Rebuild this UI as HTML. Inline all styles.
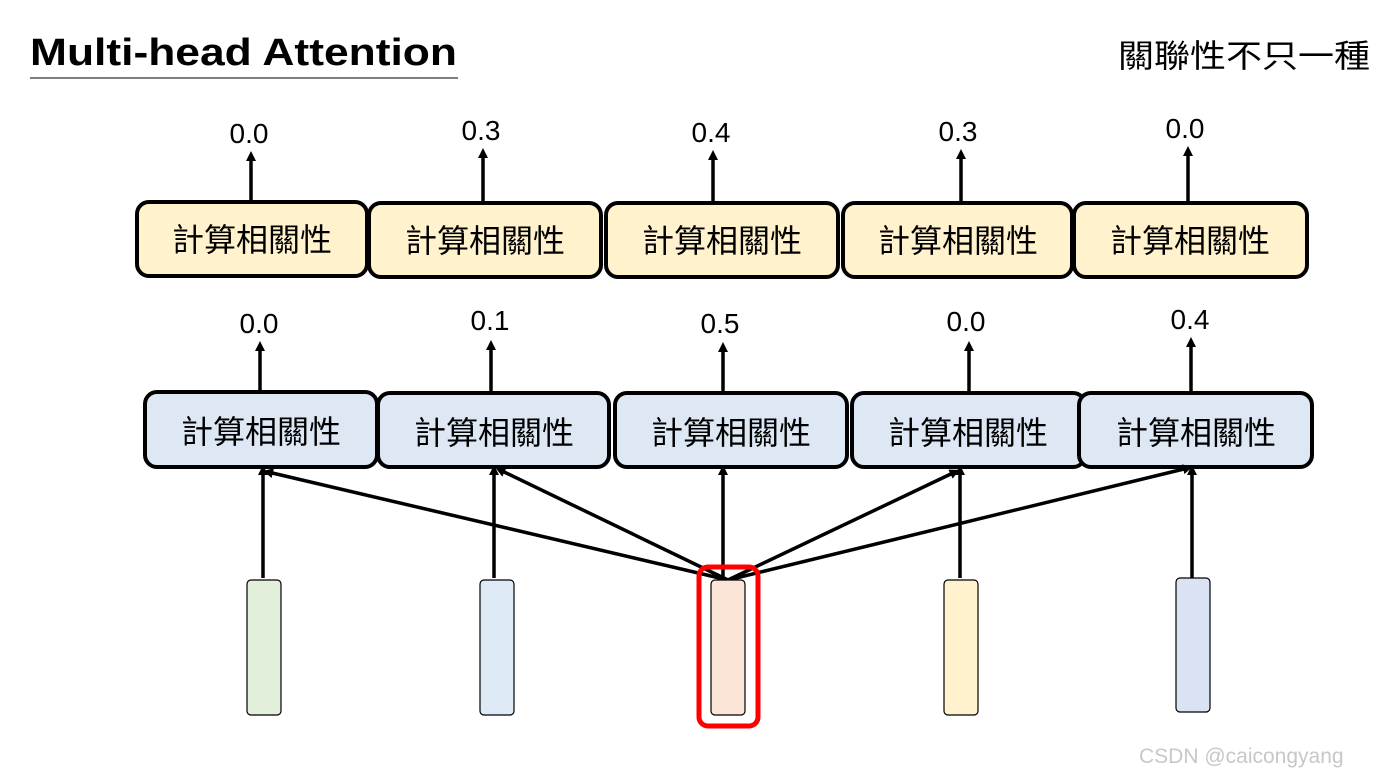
<!DOCTYPE html>
<html><head><meta charset="utf-8"><style>
html,body{margin:0;padding:0;background:#fff;}
svg{display:block;}
</style></head><body>
<svg width="1386" height="778" viewBox="0 0 1386 778" xmlns="http://www.w3.org/2000/svg">
<defs>
<marker id="a" markerWidth="10" markerHeight="10" refX="5" refY="5" orient="auto" markerUnits="userSpaceOnUse">
<path d="M0,0 L10,5 L0,10 z" fill="#000"/>
</marker>
</defs>
<text x="30" y="65" font-family="Liberation Sans, sans-serif" font-weight="bold" font-size="38" textLength="427" lengthAdjust="spacingAndGlyphs">Multi-head Attention</text>
<line x1="30" y1="78" x2="458" y2="78" stroke="#555" stroke-width="1.5"/>
<text x="1118" y="67" font-family="Liberation Sans, Noto Sans CJK TC, sans-serif" font-size="32" textLength="252" lengthAdjust="spacingAndGlyphs">關聯性不只一種</text>

<g font-family="Liberation Sans, Noto Sans CJK TC, sans-serif" font-size="32" text-anchor="middle">
<!-- top boxes -->
<g fill="#fff2cc" stroke="#000" stroke-width="4">
<rect x="137" y="202" width="230" height="74" rx="12"/>
<rect x="369" y="203" width="232" height="74" rx="12"/>
<rect x="606" y="203" width="232" height="74" rx="12"/>
<rect x="843" y="203" width="229" height="74" rx="12"/>
<rect x="1074" y="203" width="233" height="74" rx="12"/>
</g>
<g>
<text x="252" y="251">計算相關性</text>
<text x="485" y="252">計算相關性</text>
<text x="722" y="252">計算相關性</text>
<text x="958" y="252">計算相關性</text>
<text x="1190" y="252">計算相關性</text>
</g>
<!-- bottom boxes -->
<g fill="#dee8f5" stroke="#000" stroke-width="4">
<rect x="145" y="392" width="232" height="75" rx="12"/>
<rect x="378" y="393" width="231" height="74" rx="12"/>
<rect x="615" y="393" width="232" height="74" rx="12"/>
<rect x="852" y="393" width="233" height="74" rx="12"/>
<rect x="1079" y="393" width="233" height="74" rx="12"/>
</g>
<g>
<text x="261" y="443">計算相關性</text>
<text x="494" y="444">計算相關性</text>
<text x="731" y="444">計算相關性</text>
<text x="968" y="444">計算相關性</text>
<text x="1196" y="444">計算相關性</text>
</g>
<g font-size="28">
<text x="249" y="143">0.0</text>
<text x="481" y="140">0.3</text>
<text x="711" y="142">0.4</text>
<text x="958" y="141">0.3</text>
<text x="1185" y="138">0.0</text>
<text x="259" y="333">0.0</text>
<text x="490" y="330">0.1</text>
<text x="720" y="333">0.5</text>
<text x="966" y="331">0.0</text>
<text x="1190" y="329">0.4</text>
</g>
</g>

<g stroke="#000" stroke-width="3.5" marker-end="url(#a)">
<line x1="251" y1="203" x2="251" y2="156"/>
<line x1="483" y1="203" x2="483" y2="153"/>
<line x1="713" y1="203" x2="713" y2="155"/>
<line x1="961" y1="203" x2="961" y2="154"/>
<line x1="1188" y1="203" x2="1188" y2="151"/>
<line x1="260" y1="392" x2="260" y2="346"/>
<line x1="491" y1="393" x2="491" y2="345"/>
<line x1="723" y1="393" x2="723" y2="347"/>
<line x1="969" y1="393" x2="969" y2="346"/>
<line x1="1191" y1="393" x2="1191" y2="342"/>
<line x1="263" y1="578" x2="263" y2="470"/>
<line x1="494" y1="578" x2="494" y2="470"/>
<line x1="723" y1="578" x2="723" y2="470"/>
<line x1="960" y1="578" x2="960" y2="470"/>
<line x1="1192" y1="578" x2="1192" y2="470"/>
<line x1="728" y1="580" x2="268" y2="472"/>
<line x1="728" y1="580" x2="500" y2="470"/>
<line x1="728" y1="580" x2="955" y2="472"/>
<line x1="728" y1="580" x2="1188" y2="468"/>
</g>

<g stroke="#000" stroke-width="1.2">
<rect x="247" y="580" width="34" height="135" rx="4" fill="#e2efda"/>
<rect x="480" y="580" width="34" height="135" rx="4" fill="#deebf7"/>
<rect x="711" y="580" width="34" height="135" rx="4" fill="#fbe5d6"/>
<rect x="944" y="580" width="34" height="135" rx="4" fill="#fff2cc"/>
<rect x="1176" y="578" width="34" height="134" rx="4" fill="#dae3f3"/>
</g>
<rect x="699" y="567" width="59" height="159" rx="9" fill="none" stroke="#f00" stroke-width="5"/>

<text x="1139" y="763" font-family="Liberation Sans, sans-serif" font-size="21" fill="#c8c8c8">CSDN @caicongyang</text>
</svg>
</body></html>
